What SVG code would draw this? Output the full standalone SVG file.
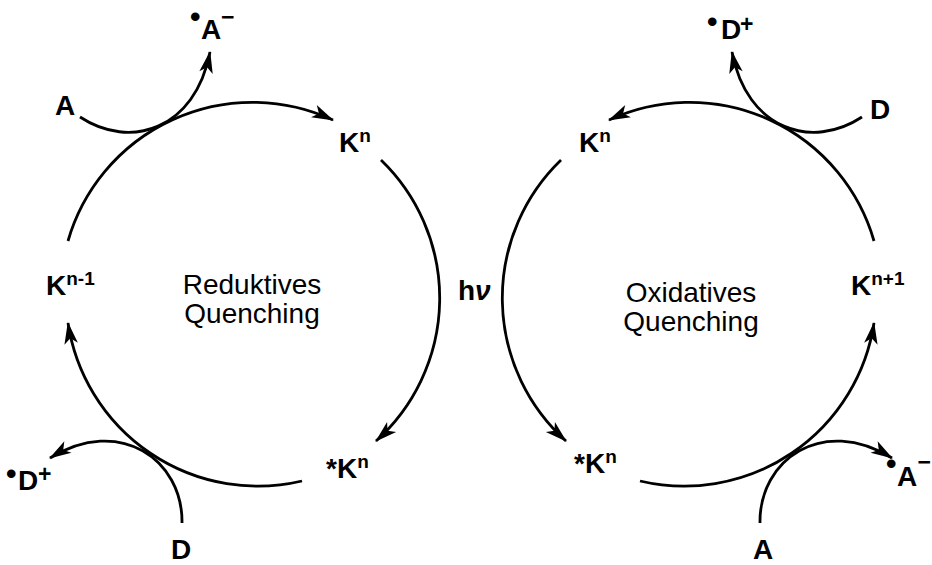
<svg xmlns="http://www.w3.org/2000/svg" width="932" height="565" viewBox="0 0 932 565">
<style>
.b{font-family:'Liberation Sans',Arial,sans-serif;font-weight:bold;font-size:28px;fill:#000}
.r{font-family:'Liberation Sans',Arial,sans-serif;font-size:28px;fill:#000}
.sup{font-size:19px}
.dot{font-size:30px}
.chg{font-size:23px}
.ln{fill:none;stroke:#000;stroke-width:2.8;marker-end:url(#ah)}
</style>
<defs>
<marker id="ah" markerUnits="userSpaceOnUse" markerWidth="30" markerHeight="30" refX="0" refY="0" orient="auto" overflow="visible">
<path d="M1,0 L-21,-6.8 L-15.5,0 L-21,6.8 Z" fill="#000"/>
</marker>
</defs>
<rect width="932" height="565" fill="#fff"/>
<g id="connectors">
<path class="ln" d="M68,241 A192,192 0 0 1 333,120"/>
<path class="ln" d="M381,160 A192,192 0 0 1 376,441"/>
<path class="ln" d="M302,481 A192,192 0 0 1 68,323"/>
<path class="ln" d="M874,241 A192,192 0 0 0 609,120"/>
<path class="ln" d="M561,160 A192,192 0 0 0 566,441"/>
<path class="ln" d="M640,481 A192,192 0 0 0 874,323"/>
<path class="ln" d="M80,117 C130,150 195,130 210,52"/>
<path class="ln" d="M862,117 C812,150 747,130 732,52"/>
<path class="ln" d="M182,523 C183,460 120,415 50,458"/>
<path class="ln" d="M760,523 C759,460 822,415 892,458"/>
</g>
<g id="kn-left"><text class="b" x="339" y="152">K<tspan class="sup" dy="-10">n</tspan></text></g>
<g id="kn1-left"><text class="b" x="46" y="295">K<tspan class="sup" dy="-10">n-1</tspan></text></g>
<g id="skn-left"><text class="b" x="326" y="478">*K<tspan class="sup" dy="-10">n</tspan></text></g>
<g id="kn-right"><text class="b" x="579" y="152">K<tspan class="sup" dy="-10">n</tspan></text></g>
<g id="kn1-right"><text class="b" x="851" y="295">K<tspan class="sup" dy="-10">n+1</tspan></text></g>
<g id="skn-right"><text class="b" x="574" y="473">*K<tspan class="sup" dy="-10">n</tspan></text></g>
<g id="hv"><text class="b" x="458" y="300">h<tspan font-style="italic">ν</tspan></text></g>
<g id="label-red"><text class="r" text-anchor="middle" x="252" y="294">Reduktives</text><text class="r" text-anchor="middle" x="252" y="323">Quenching</text></g>
<g id="label-ox"><text class="r" text-anchor="middle" x="691" y="302">Oxidatives</text><text class="r" text-anchor="middle" x="691" y="331">Quenching</text></g>
<g id="a-tl"><text class="b" x="55" y="115">A</text></g>
<g id="am-tl"><text class="b"><tspan class="dot" x="190" y="27">•</tspan><tspan x="201" y="39">A</tspan><tspan class="chg" x="221" y="25">−</tspan></text></g>
<g id="d-tr"><text class="b" x="870" y="119">D</text></g>
<g id="dp-tr"><text class="b"><tspan class="dot" x="707" y="32">•</tspan><tspan x="721" y="39">D</tspan><tspan class="chg" x="740" y="32">+</tspan></text></g>
<g id="d-bl"><text class="b" x="171" y="559">D</text></g>
<g id="dp-bl"><text class="b"><tspan class="dot" x="6" y="484">•</tspan><tspan x="18" y="490">D</tspan><tspan class="chg" x="38" y="481.5">+</tspan></text></g>
<g id="a-br"><text class="b" x="753" y="559">A</text></g>
<g id="am-br"><text class="b"><tspan class="dot" x="886" y="474">•</tspan><tspan x="897" y="486">A</tspan><tspan class="chg" font-size="19" x="917.5" y="470">−</tspan></text></g>
</svg>
